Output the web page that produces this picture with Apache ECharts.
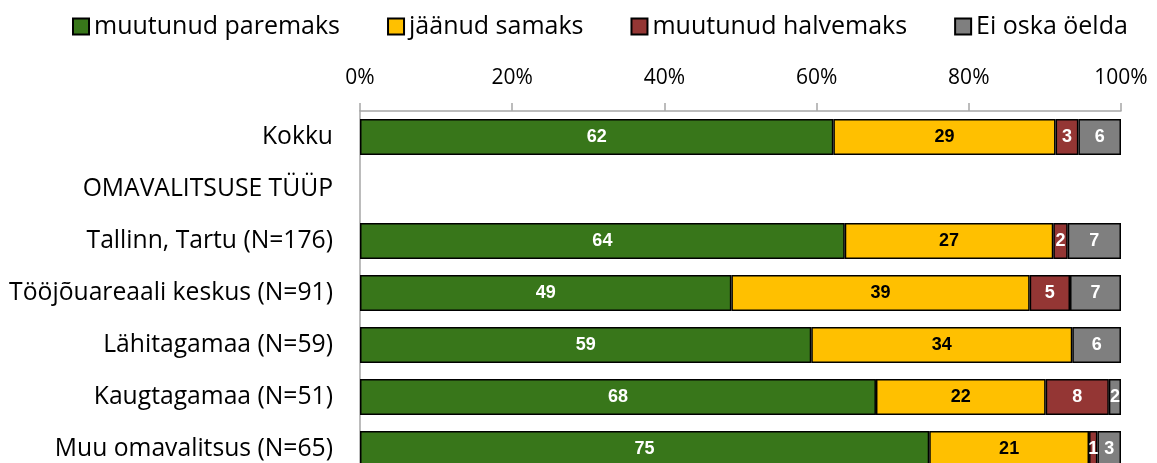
<!DOCTYPE html>
<html>
<head>
<meta charset="utf-8">
<script src="https://cdn.jsdelivr.net/npm/echarts@6/dist/echarts.min.js"></script>
<style>html,body{margin:0;padding:0;background:#fff;}#c{width:1157px;height:463px;}</style>
</head>
<body>
<div id="c"></div>
<script>
const categories = ["Kokku", "OMAVALITSUSE TÜÜP", "Tallinn, Tartu (N=176)", "Tööjõuareaali keskus (N=91)", "Lähitagamaa (N=59)", "Kaugtagamaa (N=51)", "Muu omavalitsus (N=65)"];
const seriesNames = ["muutunud paremaks", "jäänud samaks", "muutunud halvemaks", "Ei oska öelda"];
const paremaks = [62.2, null, 63.7, 48.8, 59.3, 67.8, 74.8];
const samaks = [29.2, null, 27.4, 39.2, 34.3, 22.3, 21.0];
const halvemaks = [3.0, null, 1.9, 5.3, null, 8.3, 1.1];
const eiOska = [5.6, null, 7.0, 6.7, 6.4, 1.6, 3.1];
const xTicks = [0, 20, 40, 60, 80, 100];

const colors = ["#38761a", "#ffc000", "#943634", "#7f7f7f"];
const labelColors = ["#ffffff", "#000000", "#ffffff", "#ffffff"];
const dataSets = [paremaks, samaks, halvemaks, eiOska];

const chart = echarts.init(document.getElementById('c'), null, {renderer: 'canvas'});
const FONT = 'Open Sans';
chart.setOption({
  animation: false,
  backgroundColor: '#ffffff',
  legend: {
    top: 9,
    left: 67,
    icon: 'rect',
    itemWidth: 16,
    itemHeight: 16,
    itemGap: 47,
    textStyle: {fontFamily: FONT, fontSize: 25, color: '#000'},
    data: seriesNames
  },
  grid: {left: 360, right: 36, top: 111, height: 364, outerBoundsMode: 'none', containLabel: false},
  xAxis: {
    type: 'value',
    position: 'top',
    min: 0, max: 100, interval: 20,
    axisLine: {show: true, lineStyle: {color: '#a6a6a6', width: 1.5}},
    axisTick: {show: true, length: 8, lineStyle: {color: '#a6a6a6', width: 1.5}},
    splitLine: {show: false},
    axisLabel: {
      margin: 22, fontFamily: FONT, fontSize: 21, color: '#000',
      formatter: v => xTicks.includes(v) ? v + '%' : ''
    }
  },
  yAxis: {
    type: 'category',
    inverse: true,
    data: categories,
    axisLine: {show: true, lineStyle: {color: '#a6a6a6', width: 1.5}},
    axisTick: {show: false},
    axisLabel: {margin: 27, fontFamily: FONT, fontSize: 24.7, color: '#000'}
  },
  series: dataSets.map((d, i) => ({
    name: seriesNames[i],
    type: 'bar',
    stack: 'total',
    barWidth: 36,
    data: d,
    itemStyle: {color: colors[i], borderColor: '#000', borderWidth: 1.5},
    label: {
      show: true,
      position: 'inside',
      color: labelColors[i],
      fontFamily: 'Liberation Sans, Arial',
      fontWeight: 'bold',
      fontSize: 18,
      formatter: p => (p.value == null ? '' : Math.round(p.value))
    }
  }))
});
</script>
</body>
</html>
